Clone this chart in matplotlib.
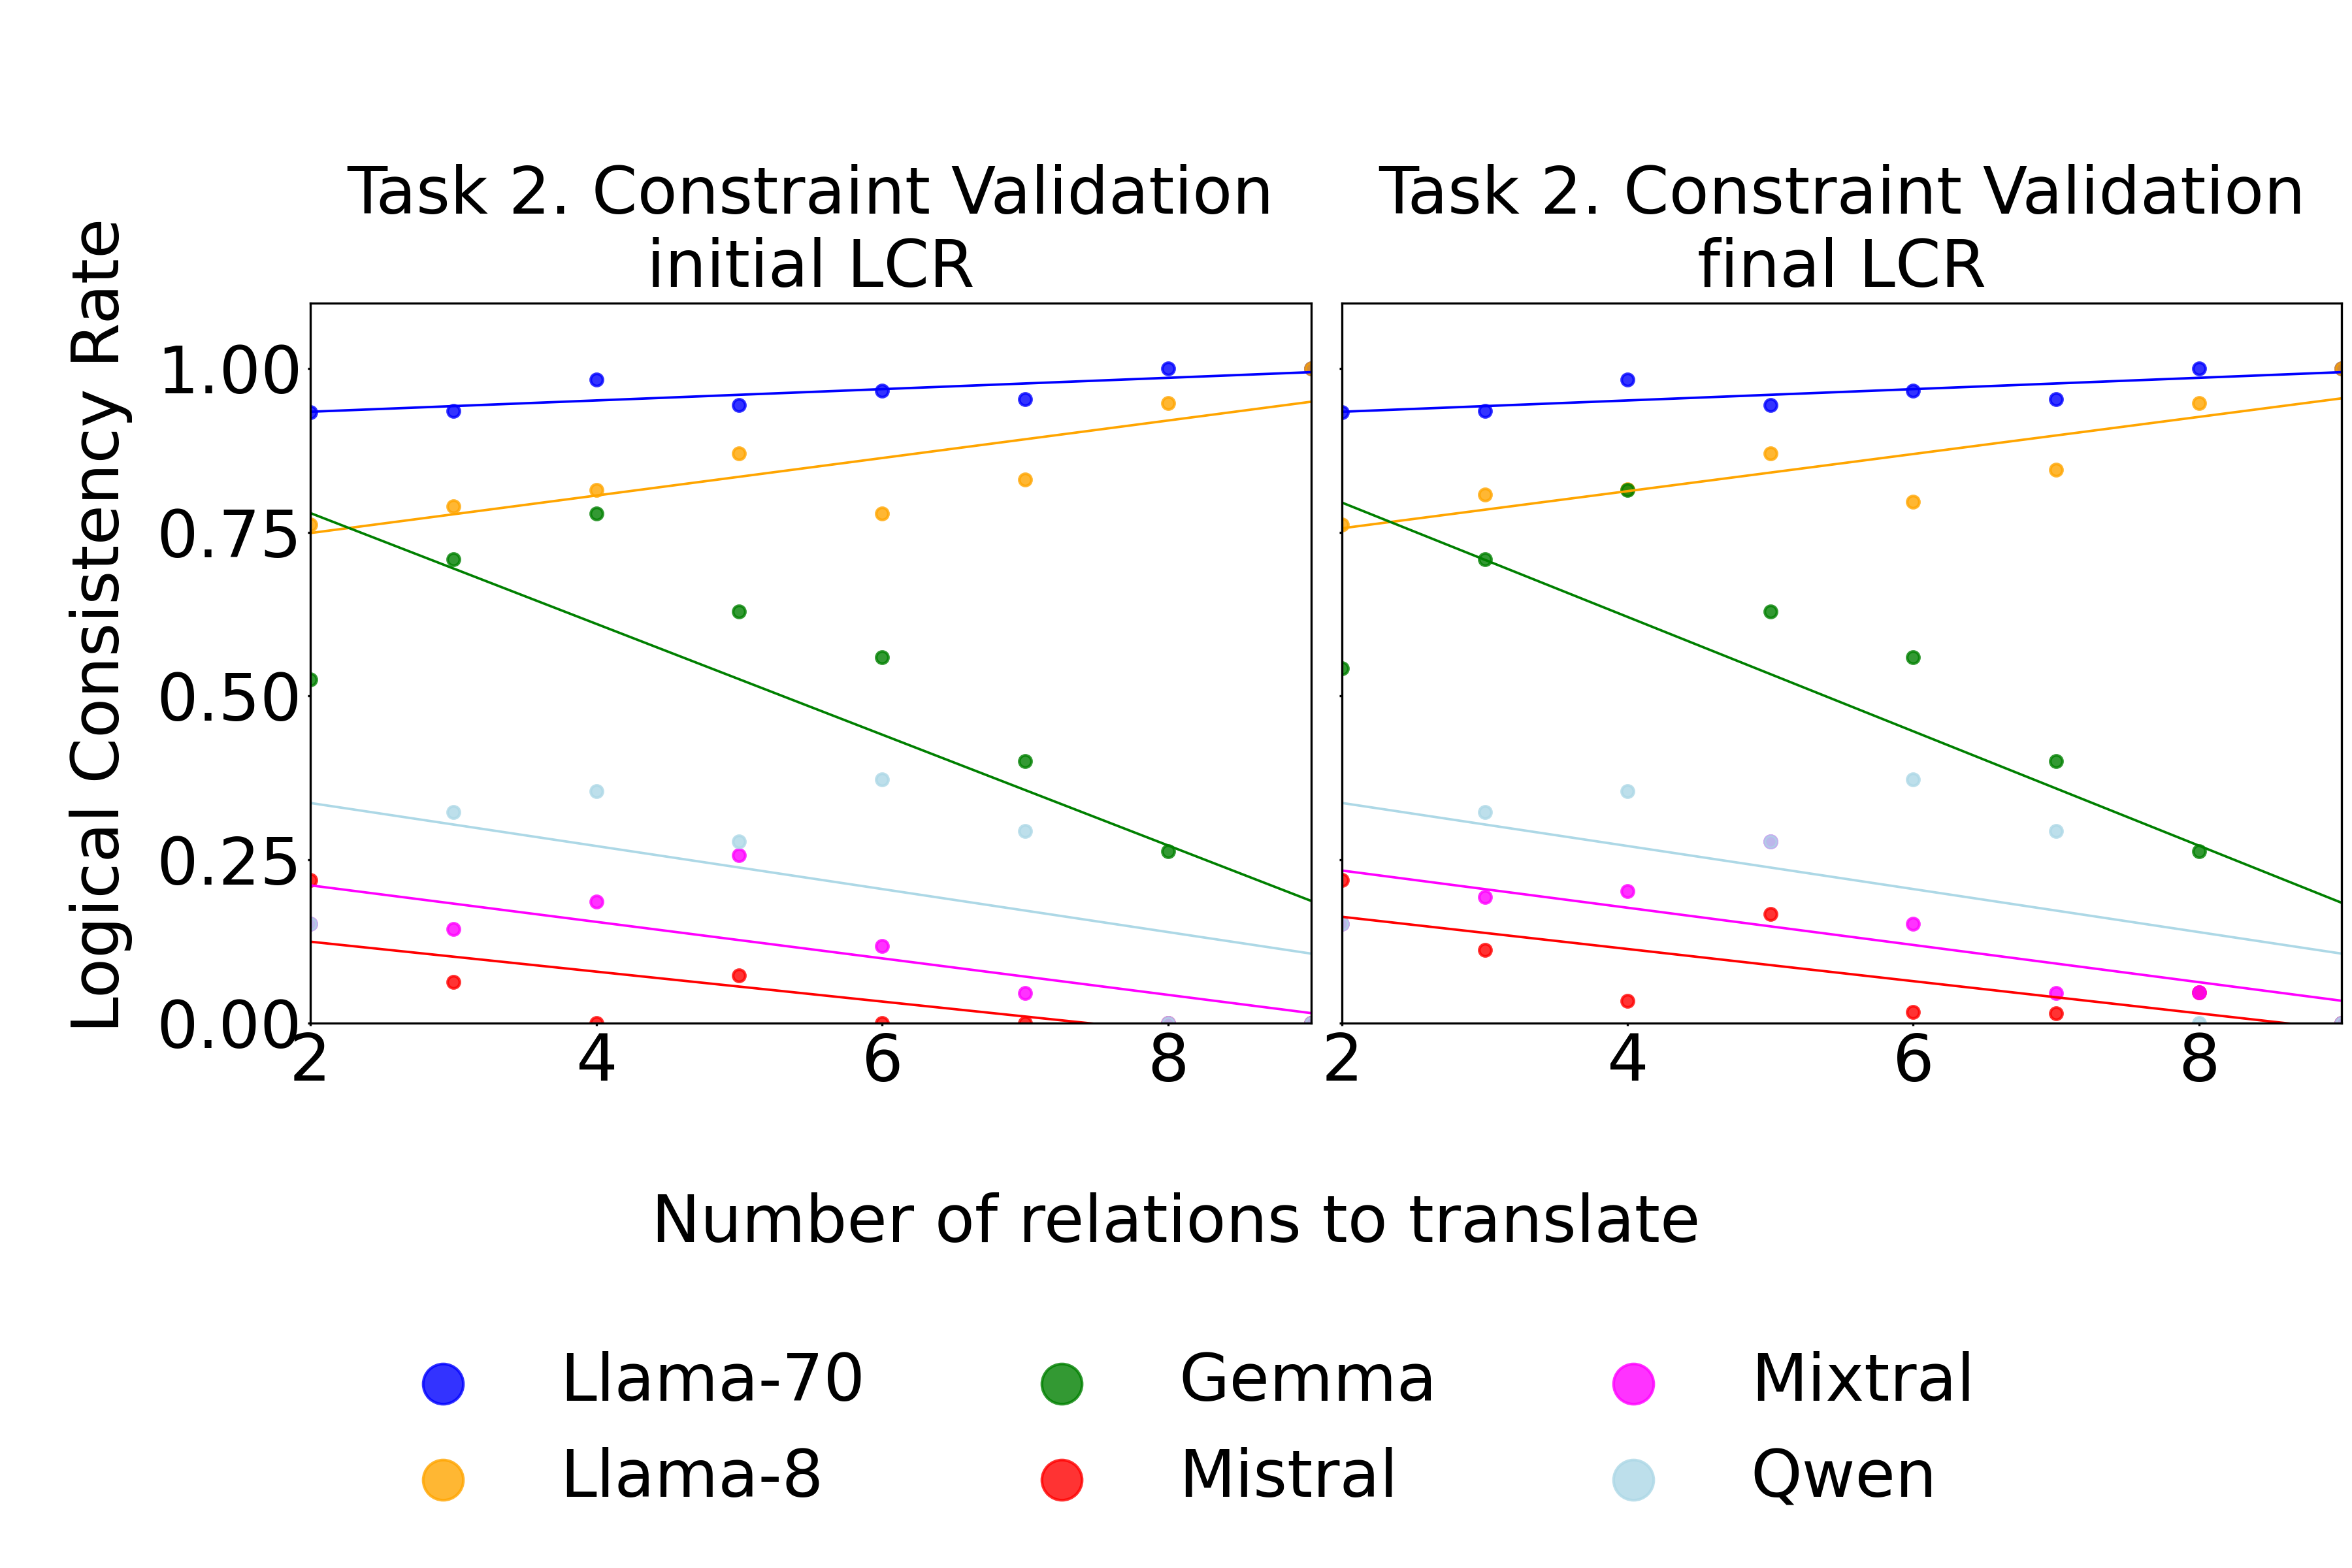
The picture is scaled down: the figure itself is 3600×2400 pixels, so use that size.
import numpy as np
import matplotlib
matplotlib.use("Agg")
import matplotlib.pyplot as plt

x_vals = [2, 3, 4, 5, 6, 7, 8, 9]
models = ["Llama-70", "Llama-8", "Gemma", "Mistral", "Mixtral", "Qwen"]
colors = ["blue", "orange", "green", "red", "magenta", "lightblue"]

initial_llama70 = [0.933, 0.935, 0.983, 0.944, 0.966, 0.953, 1.0, 1.0]
initial_llama8 = [0.762, 0.790, 0.814, 0.870, 0.779, 0.830, 0.947, 1.0]
initial_gemma = [0.525, 0.709, 0.779, 0.629, 0.559, 0.400, 0.263, 0.0]
initial_mistral = [0.219, 0.063, 0.0, 0.073, 0.0, 0.0, 0.0, 0.0]
initial_mixtral = [0.152, 0.144, 0.186, 0.257, 0.118, 0.046, 0.0, 0.0]
initial_qwen = [0.152, 0.322, 0.354, 0.277, 0.372, 0.293, 0.0, 0.0]

final_llama70 = [0.933, 0.935, 0.983, 0.944, 0.966, 0.953, 1.0, 1.0]
final_llama8 = [0.762, 0.807, 0.815, 0.870, 0.796, 0.845, 0.947, 1.0]
final_gemma = [0.542, 0.709, 0.814, 0.629, 0.559, 0.400, 0.263, 0.0]
final_mistral = [0.219, 0.112, 0.034, 0.167, 0.017, 0.015, 0.047, 0.0]
final_mixtral = [0.152, 0.193, 0.202, 0.277, 0.152, 0.046, 0.047, 0.0]
final_qwen = [0.152, 0.322, 0.354, 0.277, 0.372, 0.293, 0.0, 0.0]

panels = [
    ("Task 2. Constraint Validation\ninitial LCR",
     [initial_llama70, initial_llama8, initial_gemma, initial_mistral, initial_mixtral, initial_qwen]),
    ("Task 2. Constraint Validation\nfinal LCR",
     [final_llama70, final_llama8, final_gemma, final_mistral, final_mixtral, final_qwen]),
]

fig = plt.figure(figsize=(12, 8), dpi=300)
ax1 = fig.add_axes([0.1319, 0.3475, 0.4256, 0.4592])
ax2 = fig.add_axes([0.5706, 0.3475, 0.4250, 0.4592], sharey=ax1)

handles = []
x = np.array(x_vals, dtype=float)
for ax, (title, series) in zip([ax1, ax2], panels):
    for name, col, ys in zip(models, colors, series):
        y = np.array(ys)
        h = ax.scatter(x, y, s=20, color=col, alpha=0.8, label=name)
        if ax is ax1:
            handles.append(h)
        coef = np.polyfit(x, y, 1)
        xf = np.array([x.min(), x.max()])
        ax.plot(xf, np.polyval(coef, xf), color=col, lw=0.9)
    ax.set_xlim(2, 9)
    ax.set_ylim(0, 1.1)
    ax.set_xticks([2, 4, 6, 8])
    ax.set_yticks([0, 0.25, 0.5, 0.75, 1.0])
    ax.tick_params(labelsize=24, length=1.0, pad=2.0)
    ax.set_title(title, fontsize=24)

ax1.set_yticklabels(["0.00", "0.25", "0.50", "0.75", "1.00"])
plt.setp(ax2.get_yticklabels(), visible=False)

fig.text(0.5, 0.2083, "Number of relations to translate", fontsize=24,
         ha="center", va="baseline")
fig.text(0.043, 0.601, "Logical Consistency Rate", fontsize=24,
         rotation=90, ha="center", va="center")

fig.legend(handles=handles, labels=models, ncol=3, loc="center",
           bbox_to_anchor=(0.5, 0.0875), frameon=False, fontsize=24,
           markerscale=3.3)

fig.savefig("out.png", dpi=300)
